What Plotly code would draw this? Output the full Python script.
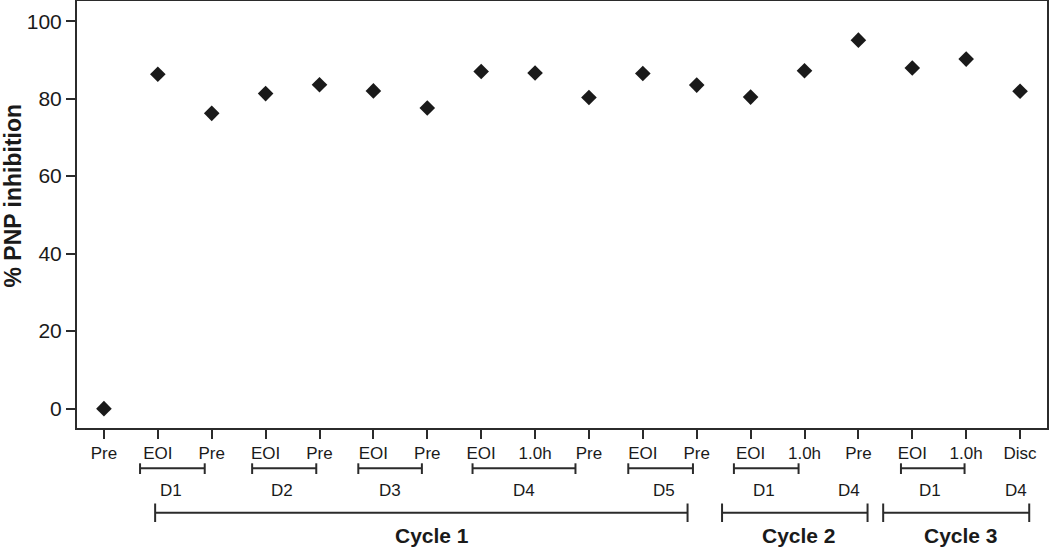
import plotly.graph_objects as go

# ---- data ----
tick_labels = ["Pre", "EOI", "Pre", "EOI", "Pre", "EOI", "Pre", "EOI", "1.0h",
               "Pre", "EOI", "Pre", "EOI", "1.0h", "Pre", "EOI", "1.0h", "Disc"]
pnp_inhibition = [0, 86.3, 76.2, 81.3, 83.6, 82.0, 77.6, 87.0, 86.6,
                  80.3, 86.5, 83.5, 80.4, 87.2, 95.1, 87.9, 90.2, 81.9]

# day groups: bracket start/end in x-axis units
day_brackets = [(0.67, 1.87), (2.75, 3.94), (4.72, 5.90), (6.84, 8.75),
                (9.73, 10.93), (11.69, 12.89), (14.79, 15.97)]
day_labels = ["D1", "D2", "D3", "D4", "D5", "D1", "D4", "D1", "D4"]
day_label_x = [1.25, 3.31, 5.31, 7.8, 10.4, 12.24, 13.83, 15.33, 16.93]

cycle_brackets = [(0.95, 10.83), (11.47, 14.17), (14.46, 17.17)]
cycle_labels = ["Cycle 1", "Cycle 2", "Cycle 3"]
cycle_label_x = [6.09, 12.89, 15.91]

x_idx = list(range(len(tick_labels)))

LINE = "#2b2b2b"
FONT = "Liberation Sans, Arial, Helvetica, sans-serif"

fig = go.Figure()
fig.add_trace(go.Scatter(
    x=x_idx, y=pnp_inhibition, mode="markers",
    marker=dict(symbol="diamond", size=12, color="#1a1a1a"),
    showlegend=False, cliponaxis=False,
))

# plot area pixels: top=1, bottom=428 (height 427)
H = 427.0
def py(pix):
    return (428.0 - pix) / H

shapes = []
for (a, b) in day_brackets:
    yc = py(468.3)
    shapes.append(dict(type="line", xref="x", yref="paper", x0=a, x1=b, y0=yc, y1=yc,
                       line=dict(color=LINE, width=2)))
    for xx in (a, b):
        shapes.append(dict(type="line", xref="x", yref="paper", x0=xx, x1=xx,
                           y0=py(463.3), y1=py(474.0), line=dict(color=LINE, width=2)))
for (a, b) in cycle_brackets:
    yc = py(512.7)
    shapes.append(dict(type="line", xref="x", yref="paper", x0=a, x1=b, y0=yc, y1=yc,
                       line=dict(color=LINE, width=2)))
    for xx in (a, b):
        shapes.append(dict(type="line", xref="x", yref="paper", x0=xx, x1=xx,
                           y0=py(503.5), y1=py(522.0), line=dict(color=LINE, width=2)))

annotations = []
for lab, xx in zip(day_labels, day_label_x):
    annotations.append(dict(text=lab, x=xx, xref="x", y=py(490), yref="paper",
                             xanchor="center", yanchor="middle", showarrow=False,
                             font=dict(family=FONT, size=17, color="#1a1a1a")))
for lab, xx in zip(cycle_labels, cycle_label_x):
    annotations.append(dict(text="<b>" + lab + "</b>", x=xx, xref="x", y=py(535), yref="paper",
                             xanchor="center", yanchor="middle", showarrow=False,
                             font=dict(family=FONT, size=21, color="#1a1a1a")))
annotations.append(dict(text="<b>% PNP inhibition</b>", textangle=-90,
                        x=(13 - 77) / 970.0, xref="paper", y=py(195.5), yref="paper",
                        xanchor="center", yanchor="middle", showarrow=False,
                        font=dict(family=FONT, size=23, color="#1a1a1a")))

fig.update_layout(
    width=1050, height=549,
    margin=dict(l=77, r=3, t=1, b=121, autoexpand=False),
    paper_bgcolor="white", plot_bgcolor="white",
    font=dict(family=FONT, color="#1a1a1a"),
    shapes=shapes, annotations=annotations,
    xaxis=dict(range=[-0.5, 17.5], tickmode="array", tickvals=x_idx, ticktext=tick_labels,
               showline=True, linecolor=LINE, linewidth=2, mirror=True,
               ticks="outside", ticklen=9, tickwidth=2, tickcolor=LINE,
               showgrid=False, zeroline=False, tickfont=dict(size=17, family=FONT, color="#1a1a1a")),
    yaxis=dict(range=[-5, 105.2], tickmode="array", tickvals=[0, 20, 40, 60, 80, 100],
               showline=True, linecolor=LINE, linewidth=2, mirror=True,
               ticks="outside", ticklen=9, tickwidth=2, tickcolor=LINE,
               showgrid=False, zeroline=False, tickfont=dict(size=21, family=FONT, color="#1a1a1a")),
)

fig.write_html("out.html", config={"displayModeBar": False},
               post_script="document.body.style.margin='0';document.body.style.overflow='hidden';")
